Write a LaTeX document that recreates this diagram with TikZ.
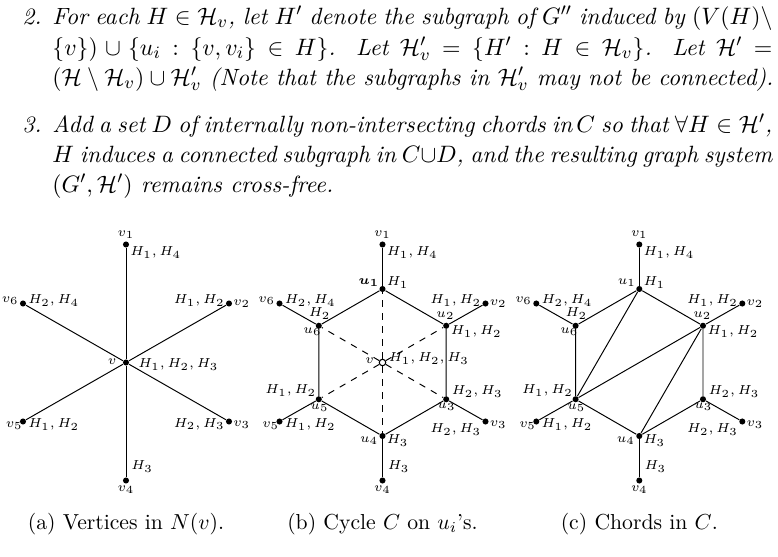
\documentclass[tikz,border=0pt]{standalone}
\usepackage{amsmath,amssymb}
\newlength\pxu
\setlength\pxu{0.461pt}
\tikzset{
  dot/.style={circle,fill=black,inner sep=0pt,minimum size=2.8pt},
  odot/.style={circle,draw=black,fill=white,line width=0.5pt,inner sep=0pt,minimum size=3pt},
  lab/.style={inner sep=0pt,font=\fontsize{6}{7}\selectfont},
  vlab/.style={inner sep=0pt,font=\fontsize{6}{7}\selectfont},
  txt/.style={inner sep=0pt,font=\fontsize{10.85}{13.6}\selectfont\itshape},
  captext/.style={inner sep=0pt,font=\fontsize{10}{12}\selectfont},
  plainedge/.style={line width=0.45pt},
  dashedge/.style={line width=0.45pt,dashed}
}
% outer star: #1 prefix, #2 y of H label at v3
\newcommand\outerstar[2]{%
  \node[dot] (#1v1) at (0,-118) {};
  \node[dot] (#1v2) at (103,-59) {};
  \node[dot] (#1v3) at (103,59) {};
  \node[dot] (#1v4) at (0,118) {};
  \node[dot] (#1v5) at (-103,59) {};
  \node[dot] (#1v6) at (-103,-59) {};
  \node[vlab] (#1n1) at (0,-128) {$v_1$};
  \node[lab,anchor=west] (#1h1) at (4,-110) {$H_1, H_4$};
  \node[vlab,anchor=west] (#1n2) at (107,-59) {$v_2$};
  \node[lab,anchor=east] (#1h2) at (99,-62) {$H_1, H_2$};
  \node[vlab,anchor=west] (#1n3) at (107,62) {$v_3$};
  \node[lab,anchor=east] (#1h3) at (99,#2) {$H_2, H_3$};
  \node[vlab] (#1n4) at (0,127) {$v_4$};
  \node[lab,anchor=west] (#1h4) at (5,104) {$H_3$};
  \node[vlab,anchor=east] (#1n5) at (-103,63) {$v_5$};
  \node[lab,anchor=west] (#1h5) at (-98,62) {$H_1, H_2$};
  \node[vlab,anchor=east] (#1n6) at (-107,-62) {$v_6$};
  \node[lab,anchor=west] (#1h6) at (-98,-62) {$H_2, H_4$};
}
% inner hexagon: #1 prefix, #2 label of u1
\newcommand\innerhex[2]{%
  \node[dot] (#1u1) at (0,-73.5) {};
  \node[dot] (#1u2) at (63.7,-36.75) {};
  \node[dot] (#1u3) at (63.7,36.75) {};
  \node[dot] (#1u4) at (0,73.5) {};
  \node[dot] (#1u5) at (-63.7,36.75) {};
  \node[dot] (#1u6) at (-63.7,-36.75) {};
  \node[vlab,anchor=east] (#1m1) at (-3,-80) {#2};
  \node[lab,anchor=west] (#1k1) at (4,-80) {$H_1$};
  \node[vlab] (#1m2) at (63,-47) {$u_2$};
  \node[lab,anchor=west] (#1k2) at (68,-31) {$H_1, H_2$};
  \node[lab,anchor=west] (#1k3) at (69,29) {$H_2, H_3$};
  \node[vlab] (#1m3) at (64,44) {$u_3$};
  \node[vlab,anchor=east] (#1m4) at (-4,78) {$u_4$};
  \node[lab,anchor=west] (#1k4) at (4,78) {$H_3$};
  \node[lab,anchor=east] (#1k5) at (-66,28) {$H_1, H_2$};
  \node[vlab] (#1m5) at (-63,45) {$u_5$};
  \node[lab] (#1k6) at (-63,-49) {$H_2$};
  \node[vlab] (#1m6) at (-70,-31) {$u_6$};
  \draw[plainedge] (#1u1) -- (#1u2) -- (#1u3) -- (#1u4) -- (#1u5) -- (#1u6) -- (#1u1);
  \foreach \k in {1,...,6} {\draw[plainedge] (#1u\k) -- (#1v\k);}
}
\begin{document}
\begin{tikzpicture}[x=\pxu,y=-\pxu]
\useasboundingbox (0,0) rectangle (778,556);
% text
\node[txt,anchor=base west] (n2) at (22,24) {2.};
\node[txt,anchor=base west] (l1) at (52,24) {\makebox[720\pxu][s]{For each $H \in \mathcal{H}_v$, let $H'$ denote the subgraph of $G''$ induced by $(V(H) \setminus$}};
\node[txt,anchor=base west] (l2) at (52,55) {\makebox[720\pxu][s]{$\{v\}) \cup \{u_i : \{v, v_i\} \in H\}$. Let $\mathcal{H}'_v = \{H' : H \in \mathcal{H}_v\}$. Let $\mathcal{H}' =$}};
\node[txt,anchor=base west] (l3) at (52,85) {$(\mathcal{H} \setminus \mathcal{H}_v) \cup \mathcal{H}'_v$ (Note that the subgraphs in $\mathcal{H}'_v$ may not be connected).};
\node[txt,anchor=base west] (n3) at (22,132) {3.};
\node[txt,anchor=base west] (l4) at (52,132) {\makebox[720\pxu][s]{Add a set $D$ of internally non-intersecting chords in$\,C$ so that $\forall H \in \mathcal{H}'$,}};
\node[txt,anchor=base west] (l5) at (52,162) {\makebox[720\pxu][s]{$H$ induces a connected subgraph in $C$$\cup$$D$, and the resulting graph system}};
\node[txt,anchor=base west] (l6) at (52,192) {$(G', \mathcal{H}')$ remains cross-free.};
% panel a
\begin{scope}[shift={(126,362.5)}]
  \outerstar{a}{61.5}
  \node[dot] (av) at (0,0) {};
  \node[vlab,anchor=east] (avl) at (-9,-1) {$v$};
  \node[lab,anchor=west] (avh) at (12,2) {$H_1, H_2, H_3$};
  \foreach \k in {1,...,6} {\draw[plainedge] (av) -- (av\k);}
\end{scope}
% panel b
\begin{scope}[shift={(382.5,362.5)}]
  \outerstar{b}{67}
  \innerhex{b}{$\boldsymbol{u_1}$}
  \node[odot] (bv) at (0,0) {};
  \node[vlab,anchor=east] (bvl) at (-8,-2) {$v$};
  \node[lab,anchor=west] (bvh) at (6,-4) {$H_1, H_2, H_3$};
  \foreach \k in {1,...,6} {\draw[dashedge] (bv) -- (bu\k);}
\end{scope}
% panel c
\begin{scope}[shift={(639.3,362.5)}]
  \outerstar{c}{67}
  \innerhex{c}{$u_1$}
  \draw[plainedge] (cu1) -- (cu5);
  \draw[plainedge] (cu2) -- (cu5);
  \draw[plainedge] (cu2) -- (cu4);
\end{scope}
% captions
\node[captext] (ca) at (126,524) {(a) Vertices in $N(v)$.};
\node[captext] (cb) at (382.5,524) {(b) Cycle $C$ on $u_i$'s.};
\node[captext] (cc) at (639.3,524) {(c) Chords in $C$.};
\end{tikzpicture}
\end{document}
